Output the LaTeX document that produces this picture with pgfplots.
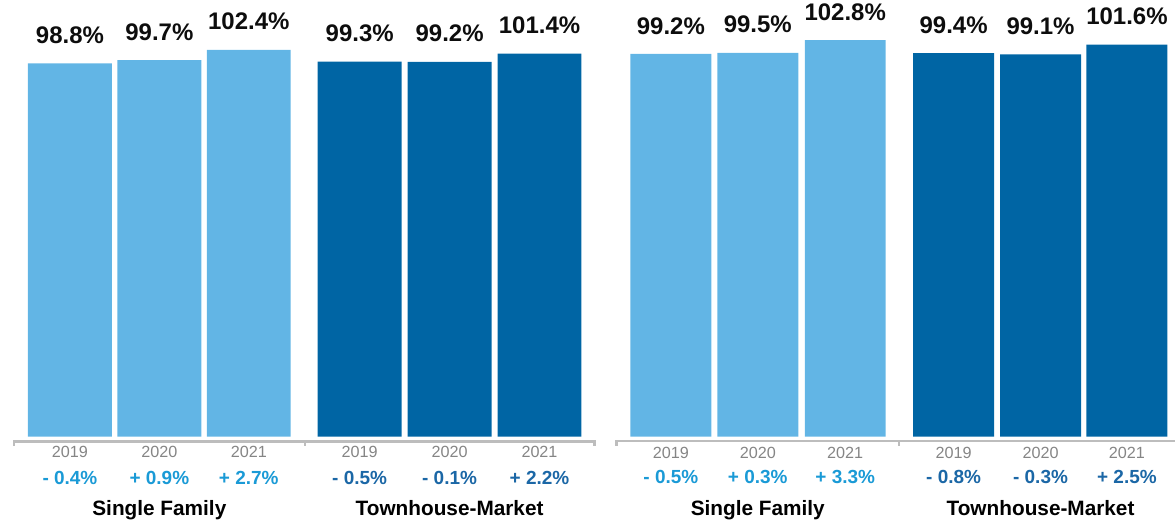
\documentclass[border=0pt]{standalone}
\usepackage{pgfplots}
\pgfplotsset{compat=1.18}
\usepackage{fontspec}
\setmainfont{Liberation Sans}
\definecolor{lightbar}{HTML}{62B5E5}
\definecolor{darkbar}{HTML}{0065A4}
\definecolor{lighttxt}{HTML}{1A9AD6}
\definecolor{darktxt}{HTML}{1B67A6}
\definecolor{yeartxt}{HTML}{858585}
\definecolor{axisgray}{HTML}{BDBDBD}
\pgfplotsset{panel/.style={
  x=0.5pt, ybar, bar shift=0pt, clip=false, axis lines=none, ticks=none,
  anchor=south west,
  point meta=explicit symbolic, nodes near coords,
  every node near coord/.append style={anchor=base, yshift=10pt, inner sep=0pt,
    font=\bfseries\fontsize{12}{13}\selectfont, text=black!95},
}}
\tikzset{yr/.style={anchor=base, font=\fontsize{8.1}{9}\selectfont, text=yeartxt},
  pc/.style={anchor=base, font=\bfseries\fontsize{9.5}{10}\selectfont},
  grp/.style={anchor=base, font=\bfseries\fontsize{10.4}{11}\selectfont, text=black}}
\begin{document}
\begin{tikzpicture}
\begin{axis}[panel, at={(0pt,0pt)}, y=1.89pt, xmin=0, xmax=603, ymin=-24.07, ymax=115.6, bar width=84]
\addplot[fill=lightbar, draw=none] coordinates {(70,98.8)[98.8\%] (159.5,99.7)[99.7\%] (249,102.4)[102.4\%]};
\addplot[fill=darkbar, draw=none] coordinates {(360,99.3)[99.3\%] (450,99.2)[99.2\%] (540,101.4)[101.4\%]};
\path (rel axis cs:0,0) (rel axis cs:1,1);
\draw[axisgray, line width=1.1pt] (axis cs:14,-2.5) -- (axis cs:14,-1.3) -- (axis cs:595,-1.3) -- (axis cs:595,-2.5);
\draw[axisgray, line width=1.1pt] (axis cs:305,-1.3) -- (axis cs:305,-2.5);
\node[yr] at (axis cs:70,-5.56) {2019};
\node[yr] at (axis cs:159.5,-5.56) {2020};
\node[yr] at (axis cs:249,-5.56) {2021};
\node[yr] at (axis cs:360,-5.56) {2019};
\node[yr] at (axis cs:450,-5.56) {2020};
\node[yr] at (axis cs:540,-5.56) {2021};
\node[pc, text=lighttxt] at (axis cs:70,-12.7) {- 0.4\%};
\node[pc, text=lighttxt] at (axis cs:159.5,-12.7) {+ 0.9\%};
\node[pc, text=lighttxt] at (axis cs:249,-12.7) {+ 2.7\%};
\node[pc, text=darktxt] at (axis cs:360,-12.7) {- 0.5\%};
\node[pc, text=darktxt] at (axis cs:450,-12.7) {- 0.1\%};
\node[pc, text=darktxt] at (axis cs:540,-12.7) {+ 2.2\%};
\node[grp] at (axis cs:159.5,-20.9) {Single Family};
\node[grp] at (axis cs:450,-20.9) {Townhouse-Market};
\end{axis}
\begin{axis}[panel, at={(301.5pt,0pt)}, y=1.93pt, xmin=603, xmax=1176, ymin=-23.58, ymax=113.2, bar width=81]
\addplot[fill=lightbar, draw=none] coordinates {(671.5,99.2)[99.2\%] (758.5,99.5)[99.5\%] (846,102.8)[102.8\%]};
\addplot[fill=darkbar, draw=none] coordinates {(954.5,99.4)[99.4\%] (1041.5,99.1)[99.1\%] (1128,101.6)[101.6\%]};
\path (rel axis cs:0,0) (rel axis cs:1,1);
\draw[axisgray, line width=1.1pt] (axis cs:617,-2.4) -- (axis cs:617,-1.17) -- (axis cs:1176,-1.17);
\draw[axisgray, line width=1.1pt] (axis cs:900,-1.17) -- (axis cs:900,-2.4);
\node[yr] at (axis cs:671.5,-5.7) {2019};
\node[yr] at (axis cs:758.5,-5.7) {2020};
\node[yr] at (axis cs:846,-5.7) {2021};
\node[yr] at (axis cs:954.5,-5.7) {2019};
\node[yr] at (axis cs:1041.5,-5.7) {2020};
\node[yr] at (axis cs:1128,-5.7) {2021};
\node[pc, text=lighttxt] at (axis cs:671.5,-12.2) {- 0.5\%};
\node[pc, text=lighttxt] at (axis cs:758.5,-12.2) {+ 0.3\%};
\node[pc, text=lighttxt] at (axis cs:846,-12.2) {+ 3.3\%};
\node[pc, text=darktxt] at (axis cs:954.5,-12.2) {- 0.8\%};
\node[pc, text=darktxt] at (axis cs:1041.5,-12.2) {- 0.3\%};
\node[pc, text=darktxt] at (axis cs:1128,-12.2) {+ 2.5\%};
\node[grp] at (axis cs:758.5,-20.5) {Single Family};
\node[grp] at (axis cs:1041.5,-20.5) {Townhouse-Market};
\end{axis}
\end{tikzpicture}
\end{document}
